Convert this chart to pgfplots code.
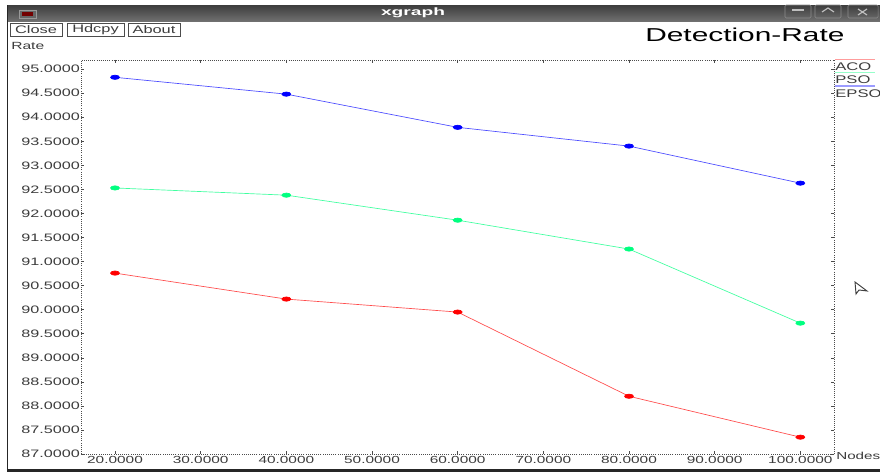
\documentclass[border=0pt]{standalone}
\usepackage{fontspec}
\setmainfont[FakeStretch=1.5]{Liberation Sans}
\newfontfamily\titlefont[FakeStretch=1.6]{Liberation Sans}
\newfontfamily\barfont[FakeStretch=1.8]{Liberation Sans}
\usepackage{pgfplots}
\pgfplotsset{compat=1.18}
\usetikzlibrary{shadings}
\definecolor{acored}{RGB}{255,0,0}
\definecolor{psogreen}{RGB}{0,255,128}
\definecolor{epsoblue}{RGB}{0,0,255}
\definecolor{ink}{RGB}{60,60,60}
\begin{document}
\begin{tikzpicture}[x=0.75pt,y=-0.75pt]
\useasboundingbox (0,0) rectangle (880,473);
\clip (0,0) rectangle (880,473);
\fill[white] (0,0) rectangle (880,473);
% window frame and title bar
\fill[black!85] (7,5) rectangle (880,472);
\fill[white] (8,22) rectangle (880,469);
\shade[top color=black!75,bottom color=black!55] (8,6) rectangle (880,22);
\fill[black!60,draw=black!40] (19,10) rectangle (36,18);
\fill[red!45!black] (22,12) rectangle (33,16);
\node[white,font=\barfont\bfseries\fontsize{8}{9}\selectfont] at (413,13) {xgraph};
\foreach \a/\b in {785/811,815/841,848/878}
  \draw[black!45,rounded corners=1pt] (\a,5) rectangle (\b,18);
\draw[black!25,line width=0.9pt] (792,10)--(804,10);
\draw[black!25,line width=0.9pt] (822,12)--(828,8)--(834,12);
\draw[black!25,line width=0.9pt] (858,9)--(867,15) (867,9)--(858,15);
% buttons
\foreach \a/\b/\t in {10/62/Close,67/124/Hdcpy,128/180/About}{
  \draw[black!70] (\a,23) rectangle (\b,36);
  \node[ink,font=\fontsize{8.2}{9}\selectfont] at ({(\a+\b)/2},29.5) {\t};
}
\node[ink,anchor=west,inner sep=0pt,font=\fontsize{7.8}{8}\selectfont] at (11,46) {Rate};
\node[black,anchor=west,inner sep=0pt,font=\titlefont\fontsize{14}{15}\selectfont] at (645,35) {Detection-Rate};
\node[ink,anchor=west,inner sep=0pt,font=\fontsize{7.6}{9}\selectfont] at (836,456) {Nodes};
% mouse pointer
\draw[black!75,fill=white,line width=0.7pt] (855,282)--(856,294)--(859,290)--(867,291)--cycle;
\begin{axis}[
  at={(60.75pt,-340.5pt)}, anchor=south west,
  scale only axis, width=565pt, height=295.5pt,
  xmin=16.03, xmax=103.97, ymin=87, ymax=95.19,
  xtick={20,30,...,100},
  ytick={87,87.5,...,95},
  tick align=inside, major tick length=2.2pt,
  tick style={black!70,line width=0.4pt},
  axis line style={black!70,densely dotted,line width=0.6pt},
  clip=false,
  xticklabel style={ink,font=\fontsize{7.7}{9}\selectfont,inner sep=0pt,yshift=-1.2pt},
  yticklabel style={ink,font=\fontsize{8.1}{9}\selectfont,inner sep=0pt,xshift=-0.6pt},
  /pgf/number format/assume math mode=true,
  /pgf/number format/fixed, /pgf/number format/fixed zerofill,
  /pgf/number format/precision=4, /pgf/number format/1000 sep={},
  scaled ticks=false,
  legend image code/.code={\draw[#1,overlay,mark=none,opacity=0.55,line width=1pt] (0pt,6.2pt)--(29.5pt,6.2pt);},
  legend style={at={(axis description cs:1,1)},anchor=north west,draw=none,fill=none,
    inner sep=0pt,outer sep=0pt,xshift=0.8pt,yshift=-2.25pt,
    nodes={inner sep=0pt,font=\fontsize{8.3}{9}\selectfont,text=ink},
    /tikz/every even column/.append style={column sep=0pt},
    row sep=2.6pt},
  legend cell align=left,
  every axis plot/.append style={line width=0.5pt,mark=*,mark size=1.6pt},
]
\addplot[acored!70,mark options={fill=acored,draw=acored,xscale=2.1,solid}] coordinates {
  (20,90.76) (40,90.22) (60,89.95) (80,88.20) (100,87.35)};
\addlegendentry{ACO}
\addplot[psogreen!75,mark options={fill=psogreen,draw=psogreen,xscale=2.1,solid}] coordinates {
  (20,92.53) (40,92.38) (60,91.86) (80,91.26) (100,89.72)};
\addlegendentry{PSO}
\addplot[epsoblue!70,mark options={fill=epsoblue,draw=epsoblue,xscale=2.1,solid}] coordinates {
  (20,94.83) (40,94.48) (60,93.79) (80,93.40) (100,92.63)};
\addlegendentry{EPSO}
\end{axis}
\end{tikzpicture}
\end{document}
